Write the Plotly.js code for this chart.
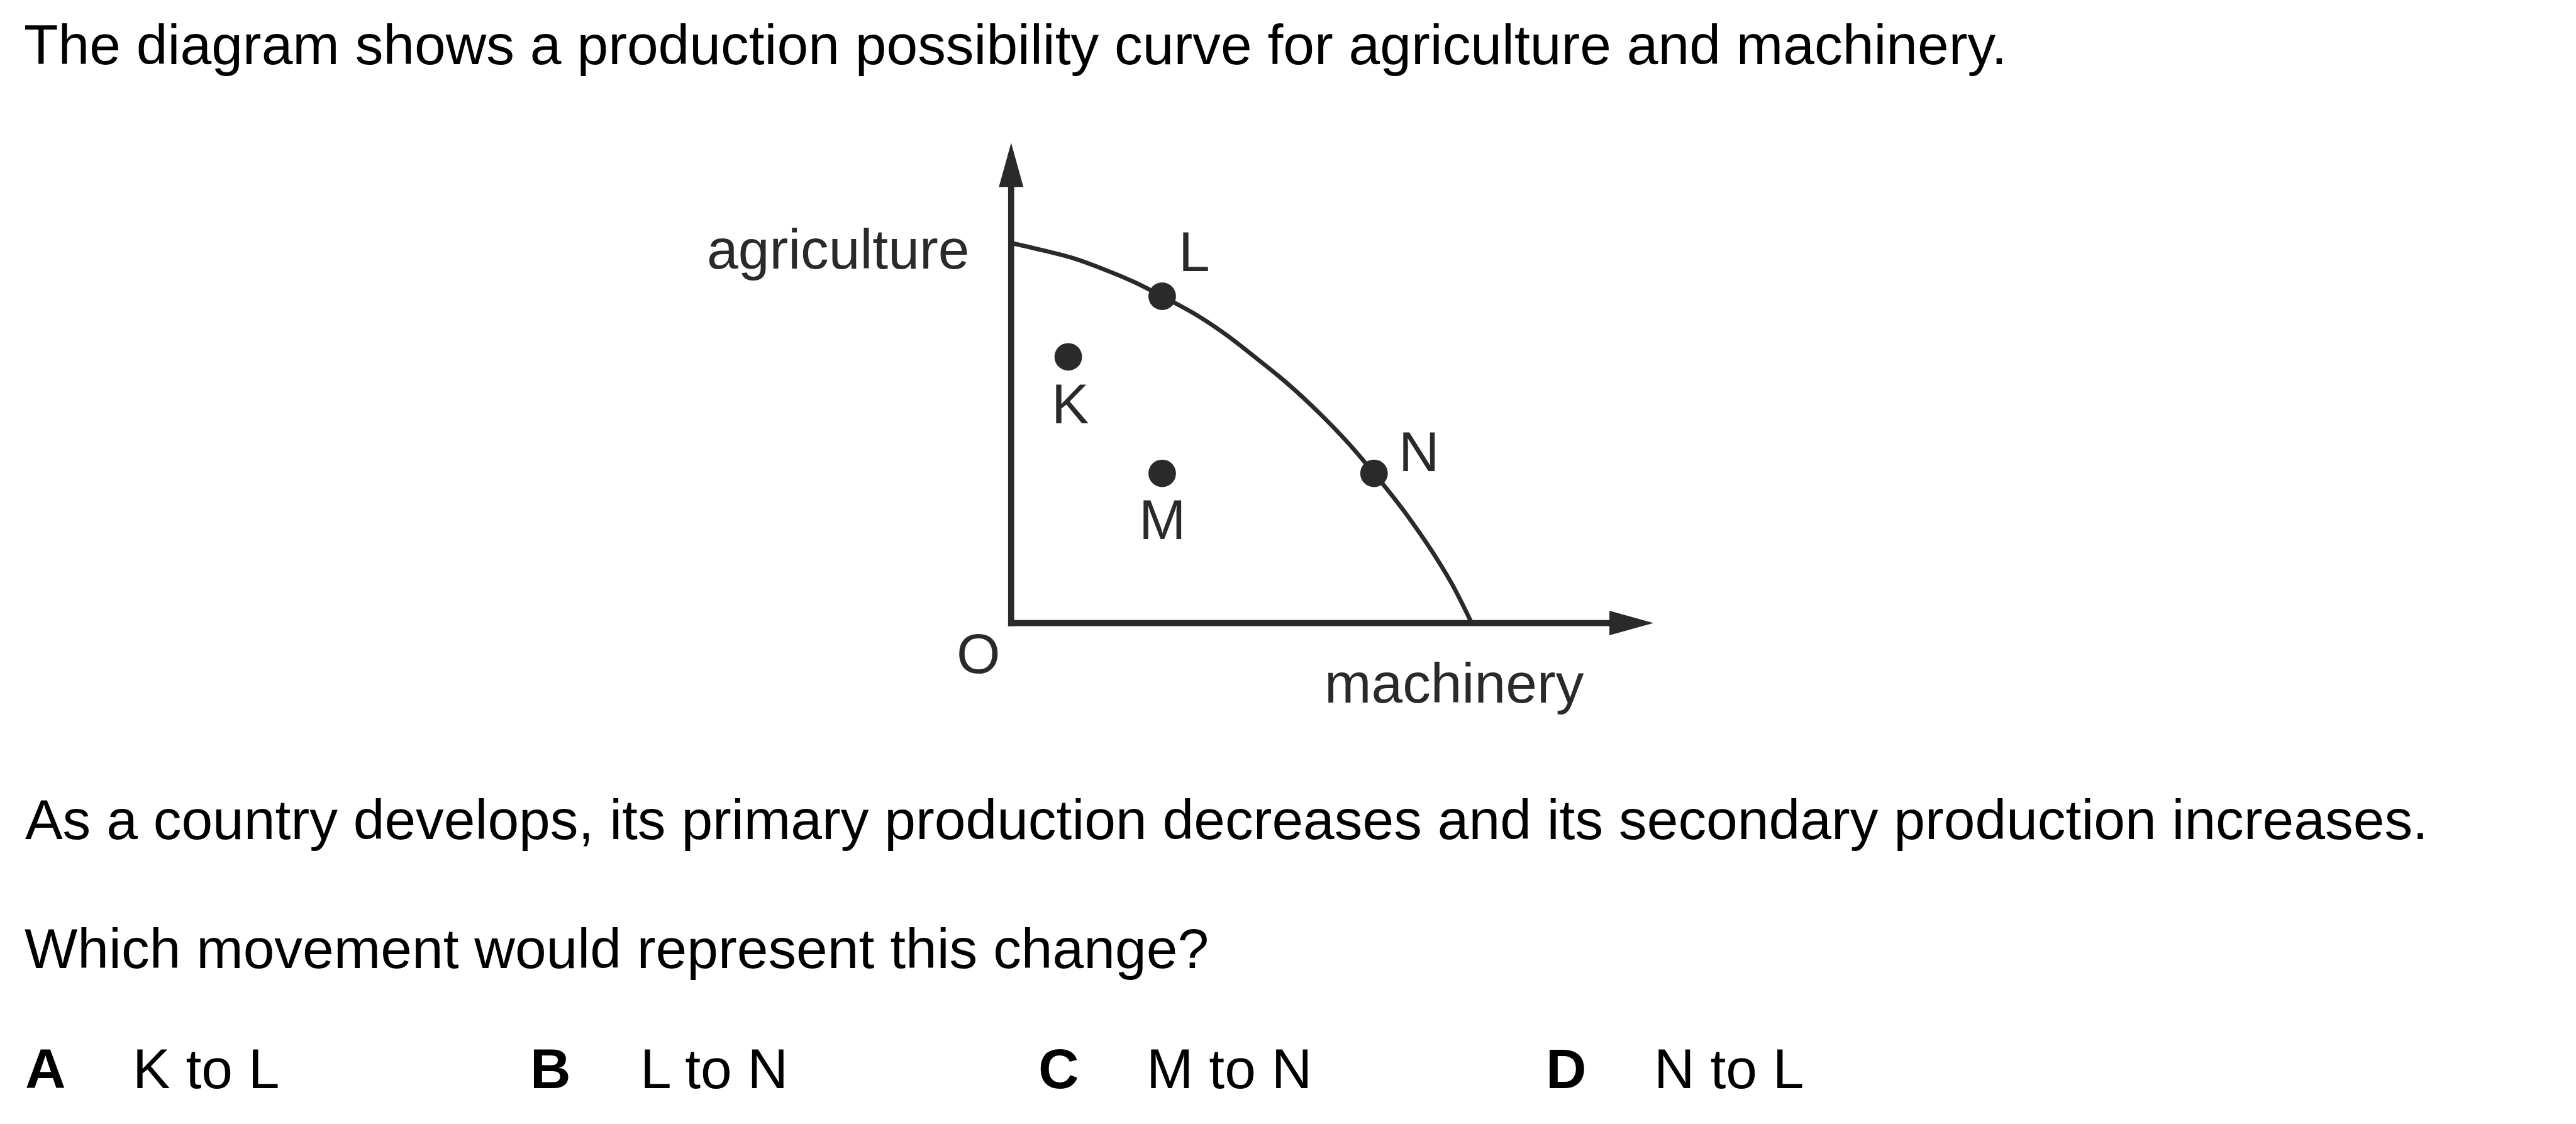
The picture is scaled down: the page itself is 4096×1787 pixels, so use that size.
<!DOCTYPE html>
<html>
<head>
<meta charset="utf-8">
<script src="https://cdn.plot.ly/plotly-3.0.1.min.js"></script>
<style>
  html, body { margin: 0; padding: 0; background: #ffffff; }
  #chart { width: 4096px; height: 1787px; }
</style>
</head>
<body>
<div id="chart"></div>
<script>
// ---------------- data ----------------
const questionIntro = "The diagram shows a production possibility curve for agriculture and machinery.";
const questionStem1 = "As a country develops, its primary production decreases and its secondary production increases.";
const questionStem2 = "Which movement would represent this change?";
const optionLetters = ["A", "B", "C", "D"];
const optionTexts = ["K to L", "L to N", "M to N", "N to L"];

const axisLabelY = "agriculture";
const axisLabelX = "machinery";
const originLabel = "O";

// production possibility curve (machinery, agriculture)
const ppcX = [0, 0.68, 1.35, 2.01, 2.68, 3.28, 4.01, 4.67, 5.34, 6.01, 6.67, 7.34, 7.88, 8.27, 8.67, 9.13, 9.57, 10];
const ppcY = [9.98, 9.79, 9.58, 9.29, 8.95, 8.58, 8.10, 7.57, 6.94, 6.28, 5.54, 4.70, 3.93, 3.35, 2.71, 1.90, 1.03, 0];

// labelled points
const pointNames = ["K", "L", "M", "N"];
const pointX = [1.24, 3.28, 3.28, 7.88];
const pointY = [6.99, 8.58, 3.93, 3.93];

// ---------------- layout constants ----------------
const S = 0.975;                 // scale from reference to window
const REF_W = 4201, REF_H = 1833;
const W = 4096, H = 1787;
const ORIGIN = { x: 1649, y: 1016 };   // reference px of the diagram origin
const UNIT = { x: 75.1, y: 62.1 };      // reference px per data unit
const X_RANGE = [-ORIGIN.x / UNIT.x, (REF_W - ORIGIN.x) / UNIT.x];
const Y_RANGE = [(ORIGIN.y - REF_H) / UNIT.y, ORIGIN.y / UNIT.y];

const FONT = '"Liberation Sans", Arial, Helvetica, sans-serif';
const FS = 91.7 * S;
const INK = "#000000";
const DIAG = "#2a2a2a";
const MID = 0.3465 * 91.7;   // baseline -> box centre, reference px

const AXIS_X_END = 13.95, AXIS_Y_END = 12.61;   // arrow tips (data units)
const HEAD_LEN = 72, HEAD_HALF = 20;            // reference px
const AXIS_W = 10 * S, CURVE_W = 7 * S, DOT = 45 * S;

const px = v => v / REF_W;
const py = v => 1 - v / REF_H;

// ---------------- traces ----------------
const traces = [
  {
    x: ppcX, y: ppcY, type: "scatter", mode: "lines",
    line: { color: DIAG, width: CURVE_W, shape: "spline", smoothing: 1 },
    hoverinfo: "skip"
  },
  {
    x: pointX, y: pointY, type: "scatter", mode: "markers",
    marker: { color: DIAG, size: DOT, line: { width: 0 } },
    hoverinfo: "skip"
  }
];

// ---------------- axes (arrows) ----------------
const hx = HEAD_LEN / UNIT.x, hxHalf = HEAD_HALF / UNIT.y;
const hy = HEAD_LEN / UNIT.y, hyHalf = HEAD_HALF / UNIT.x;
const overX = 5 / UNIT.x, overY = 5 / UNIT.y;
const shapes = [
  { type: "line", xref: "x", yref: "y", x0: -overX, y0: 0, x1: AXIS_X_END - hx + 0.1, y1: 0,
    line: { color: DIAG, width: AXIS_W } },
  { type: "line", xref: "x", yref: "y", x0: 0, y0: -overY, x1: 0, y1: AXIS_Y_END - hy + 0.1,
    line: { color: DIAG, width: AXIS_W } },
  { type: "path", xref: "x", yref: "y",
    path: `M ${AXIS_X_END - hx},${hxHalf} L ${AXIS_X_END},0 L ${AXIS_X_END - hx},${-hxHalf} Z`,
    fillcolor: DIAG, line: { width: 0 } },
  { type: "path", xref: "x", yref: "y",
    path: `M ${-hyHalf},${AXIS_Y_END - hy} L 0,${AXIS_Y_END} L ${hyHalf},${AXIS_Y_END - hy} Z`,
    fillcolor: DIAG, line: { width: 0 } }
];

// ---------------- annotations ----------------
const ann = [];
function textAt(text, xRef, baseRef, anchor, opts) {
  ann.push(Object.assign({
    text: text, xref: "paper", yref: "paper",
    x: px(xRef), y: py(baseRef - MID),
    xanchor: anchor, yanchor: "middle", showarrow: false,
    font: { family: FONT, size: FS, color: INK }, borderpad: 0
  }, opts || {}));
}
textAt(questionIntro, 38, 105, "left");
textAt(questionStem1, 40, 1368, "left");
textAt(questionStem2, 39, 1579, "left");
const optLetterX = [40, 864, 1692, 2520];
const optTextX = [215, 1043, 1869, 2696];
optionLetters.forEach((l, i) => {
  textAt("<b>" + l + "</b>", optLetterX[i], 1774, "left");
  textAt(optionTexts[i], optTextX[i], 1774, "left");
});

const diagFont = { family: FONT, size: FS, color: DIAG };
textAt(axisLabelY, 1367, 438, "center", { font: diagFont });
textAt(axisLabelX, 2372, 1146, "center", { font: diagFont });
textAt(originLabel, 1596, 1098, "center", { font: diagFont });

// point labels: offset from each point (reference px, +x right, +y up)
const labelDX = [3, 52, 0, 74];
const labelDY = [-77, 73, -75, 35];
pointNames.forEach((n, i) => {
  ann.push({
    text: n, xref: "x", yref: "y", x: pointX[i], y: pointY[i],
    xanchor: "center", yanchor: "middle", showarrow: false,
    xshift: labelDX[i] * S, yshift: labelDY[i] * S,
    font: diagFont, borderpad: 0
  });
});

const layout = {
  width: W, height: H,
  margin: { l: 0, r: 0, t: 0, b: 0, pad: 0 },
  paper_bgcolor: "#ffffff", plot_bgcolor: "#ffffff",
  showlegend: false,
  xaxis: { range: X_RANGE, visible: false, fixedrange: true, showgrid: false, zeroline: false },
  yaxis: { range: Y_RANGE, visible: false, fixedrange: true, showgrid: false, zeroline: false },
  shapes: shapes,
  annotations: ann
};

Plotly.newPlot("chart", traces, layout, { staticPlot: true, displayModeBar: false });
</script>
</body>
</html>
